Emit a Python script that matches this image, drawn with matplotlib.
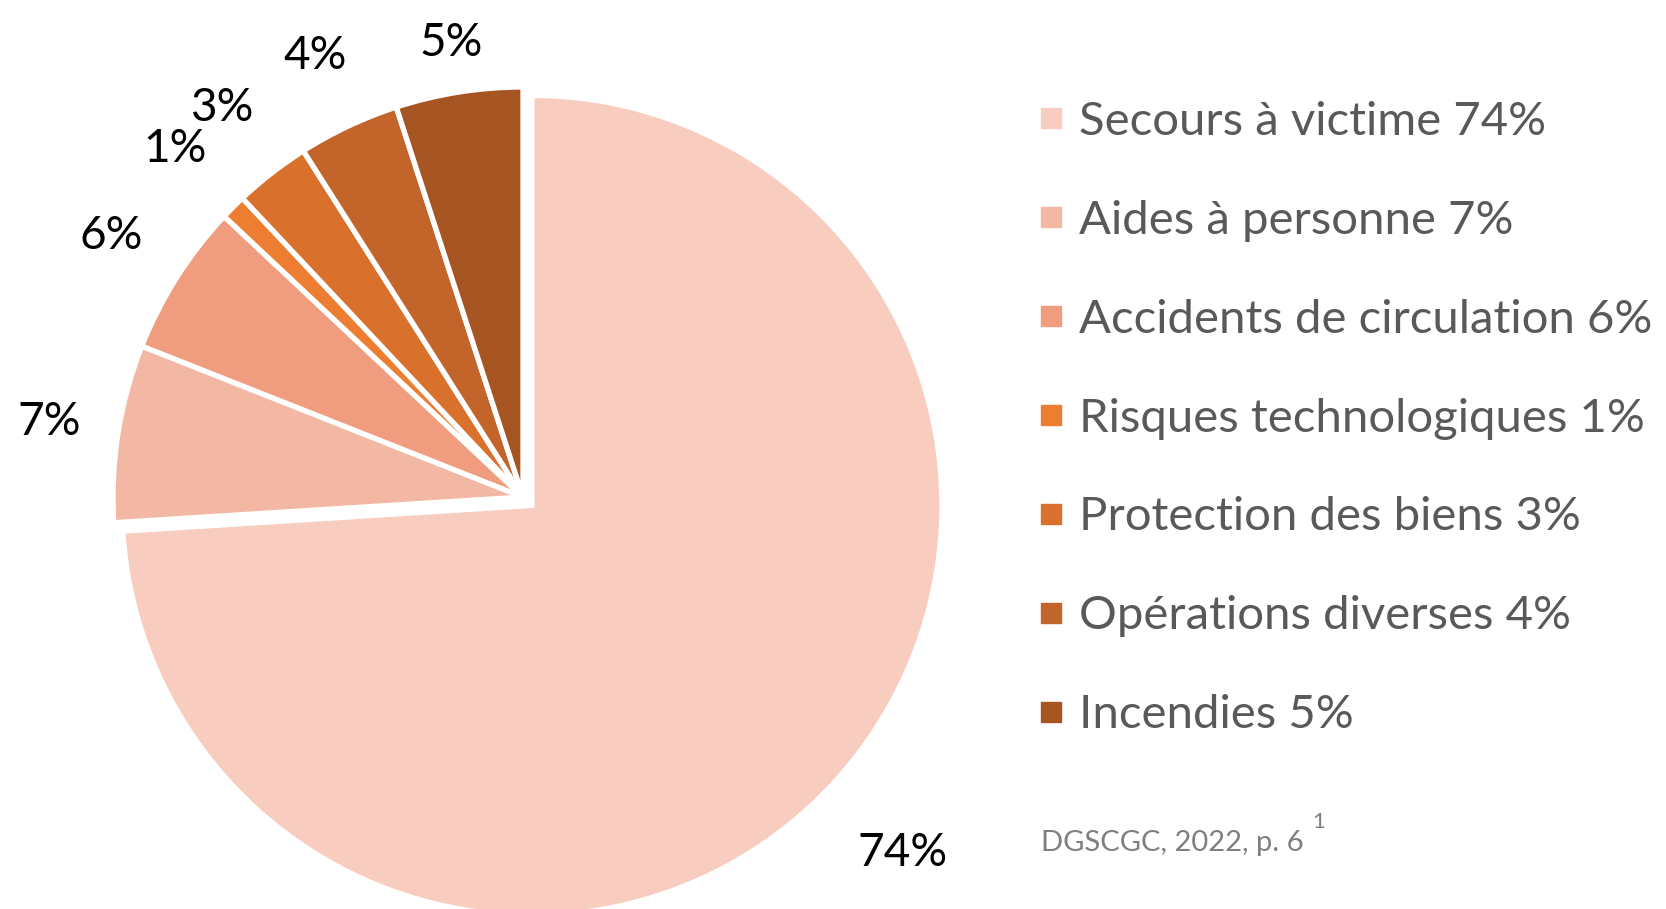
import matplotlib
matplotlib.use("Agg")
import matplotlib.pyplot as plt
from matplotlib.lines import Line2D
import numpy as np

# donnees (DGSCGC 2022)
categories = ["Secours à victime", "Aides à personne", "Accidents de circulation",
              "Risques technologiques", "Protection des biens",
              "Opérations diverses", "Incendies"]
values = [74, 7, 6, 1, 3, 4, 5]
colors = ["#F8CDBF", "#F3B8A3", "#EF9D7E", "#ED7D31", "#D9712D", "#C3652A", "#A65522"]
explode = [0.03, 0, 0, 0, 0, 0, 0]
# distance des etiquettes (en rayons), placement "best fit" d'Excel
label_dist = [1.24, 1.17, 1.19, 1.20, 1.20, 1.19, 1.12]

W, H = 1666, 909
plt.rcParams["font.family"] = ["Lato", "DejaVu Sans"]

fig = plt.figure(figsize=(W / 100, H / 100), dpi=100)
ax = fig.add_axes([0, 0, 1, 1])

R = 410
wedges, texts, autotexts = ax.pie(
    values, colors=colors, startangle=90, counterclock=False,
    center=(523, H - 497), radius=R, explode=[e * R for e in explode],
    autopct=lambda p: f"{p:.0f}%", pctdistance=1.19,
    wedgeprops=dict(edgecolor="white", linewidth=3.8),
    textprops=dict(fontsize=33, color="#000000"),
)
for w, t, d in zip(wedges, autotexts, label_dist):
    th = np.deg2rad((w.theta1 + w.theta2) / 2)
    cx, cy = w.center
    t.set_position((cx + d * w.r * np.cos(th), cy + d * w.r * np.sin(th)))

ax.set_xlim(0, W)
ax.set_ylim(0, H)
ax.set_aspect("equal")
ax.axis("off")

handles = [Line2D([], [], marker="s", linestyle="none", markersize=15,
                  markerfacecolor=c, markeredgecolor=c) for c in colors]
labels = [f"{n} {v}%" for n, v in zip(categories, values)]
leg = fig.legend(handles, labels, loc="upper left",
                 bbox_to_anchor=(1020 / W, 1 - 82 / H), frameon=False,
                 fontsize=34, labelcolor="#595959", labelspacing=1.205,
                 handlelength=0.5, handletextpad=0.35, borderaxespad=0)

fig.text(1041 / W, 1 - 843 / H, "DGSCGC, 2022, p. 6", fontsize=21,
         color="#7F7F7F", va="center", ha="left")
fig.text(1312 / W, 1 - 822 / H, "1", fontsize=16, color="#7F7F7F",
         va="center", ha="left")

fig.savefig("out.png", dpi=100)
plt.close("all")
